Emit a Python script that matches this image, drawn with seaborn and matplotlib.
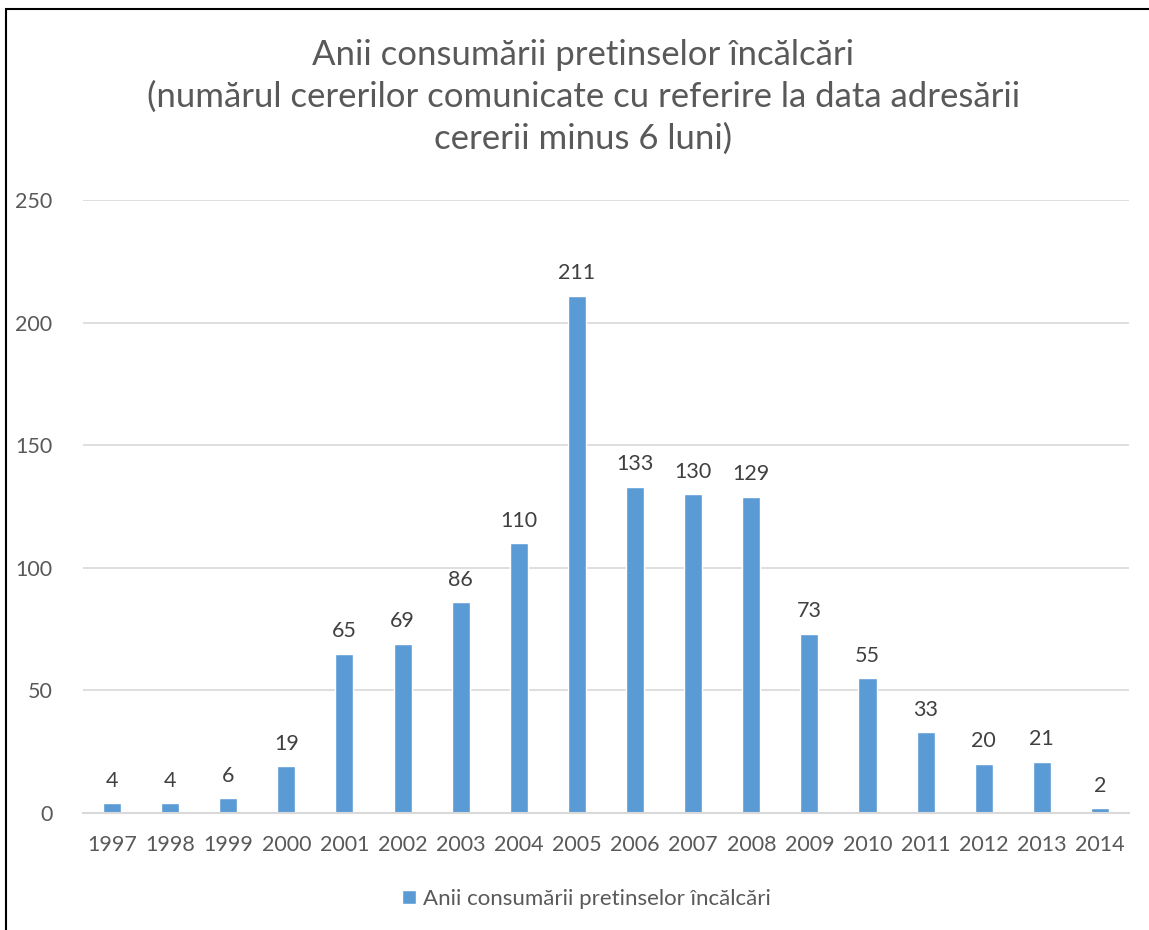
import matplotlib
matplotlib.use("Agg")
import matplotlib.pyplot as plt
import seaborn as sns
import pandas as pd
from matplotlib.patches import Rectangle

years = [str(y) for y in range(1997, 2015)]
counts = [4, 4, 6, 19, 65, 69, 86, 110, 211, 133, 130, 129, 73, 55, 33, 20, 21, 2]
series_name = "Anii consumării pretinselor încălcări"
title = ("Anii consumării pretinselor încălcări\n"
         "(numărul cererilor comunicate cu referire la data adresării\n"
         "cererii minus 6 luni)")

sns.set_style("white")
plt.rcParams["font.family"] = ["Lato", "DejaVu Sans"]

df = pd.DataFrame({"year": years, "count": counts, "series": series_name})

fig = plt.figure(figsize=(11.49, 9.30), dpi=100)
ax = fig.add_axes([0.0722, 0.1258, 0.9104, 0.6592])

sns.barplot(data=df, x="year", y="count", hue="series", palette=["#5B9BD5"],
            width=0.31, ax=ax, legend=True, saturation=1)

ax.set_ylim(0, 250)
ax.set_yticks([0, 50, 100, 150, 200, 250])
ax.yaxis.grid(True, color="#D9D9D9", linewidth=1.2)
ax.set_axisbelow(True)
for s in ["top", "right", "left"]:
    ax.spines[s].set_visible(False)
ax.spines["bottom"].set_color("#D9D9D9")
ax.spines["bottom"].set_linewidth(1.5)
ax.tick_params(axis="both", length=0, labelsize=15.5, colors="#595959")
ax.tick_params(axis="x", pad=16)
ax.tick_params(axis="y", pad=22)
ax.set_xlabel("")
ax.set_ylabel("")

for cont in ax.containers:
    ax.bar_label(cont, padding=9, fontsize=15.5, color="#404040")

leg = ax.legend(loc="center", bbox_to_anchor=(0.481, -0.14), frameon=False,
                fontsize=16, handlelength=0.65, handleheight=0.65, handletextpad=0.3)
for t in leg.get_texts():
    t.set_color("#595959")

fig.text(0.5075, 0.8957, title, ha="center", va="center", fontsize=25,
         color="#595959", linespacing=1.38)

fig.patches.append(Rectangle((5.5 / 1149, -0.1), 1.2, 1.1 - 9.5 / 930,
                             transform=fig.transFigure, fill=False,
                             edgecolor="black", linewidth=1.5))

fig.savefig("out.png", dpi=100)
